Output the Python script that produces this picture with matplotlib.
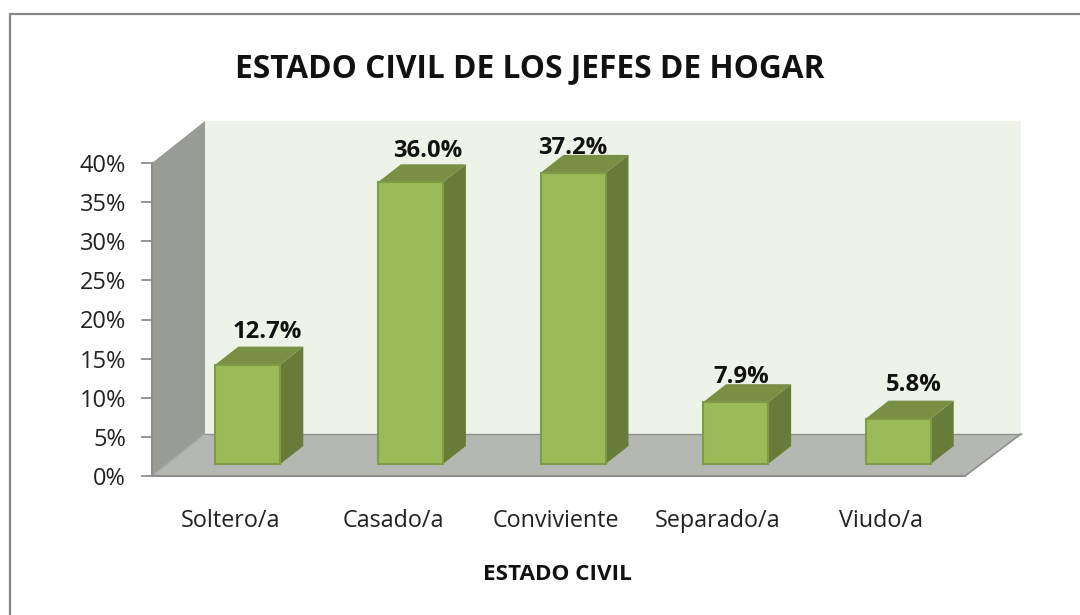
import matplotlib
matplotlib.use("Agg")
import matplotlib.pyplot as plt
from matplotlib.patches import Polygon, Rectangle

categories = ["Soltero/a", "Casado/a", "Conviviente", "Separado/a", "Viudo/a"]
values = [12.7, 36.0, 37.2, 7.9, 5.8]
labels = ["12.7%", "36.0%", "37.2%", "7.9%", "5.8%"]
yticks = [0, 5, 10, 15, 20, 25, 30, 35, 40]
title = "ESTADO CIVIL DE LOS JEFES DE HOGAR"
xlabel = "ESTADO CIVIL"
# data-label nudges from the bar's front centre / top, in pixels
label_dx = [20, 17, 0, 6, 16]
label_dy = [18, 16, 10, 10, 19]

W, H = 1080, 615
plt.rcParams['font.family'] = ['Open Sans', 'DejaVu Sans']
fig = plt.figure(figsize=(W / 100, H / 100), dpi=100, facecolor='white')

L, R, B, T = 152, 965, 476, 163
ax = fig.add_axes([L / W, 1 - B / H, (R - L) / W, (B - T) / H])
ax.set_xlim(-0.5, 4.5)
ax.set_ylim(0, 40)
ax.axis('off')
pxx = 5 / (R - L)
pxy = 40 / (B - T)
DX, DY = 53 * pxx, 42 * pxy
DXR = 56 * pxx
bdx, bdy = 23 * pxx, 18 * pxy
base = 12 * pxy
shift = 14.5 * pxx
bw = 65 * pxx


def poly(pts, fc, ec='none', lw=0, z=1):
    ax.add_patch(Polygon(pts, closed=True, fc=fc, ec=ec, lw=lw, zorder=z,
                         clip_on=False, joinstyle='miter'))


x0, x1 = -0.5, 4.5
poly([(x0 + DX, DY), (x1 + DXR, DY), (x1 + DXR, 40 + DY), (x0 + DX, 40 + DY)], '#EEF3EA', z=1)
poly([(x0, 0), (x0 + DX, DY), (x0 + DX, 40 + DY), (x0, 40)], '#999B96', z=2)
poly([(x0, 0), (x1, 0), (x1 + DXR, DY), (x0 + DX, DY)], '#B5B7B2', z=2)
ax.plot([x0 + DX, x1 + DXR], [DY, DY], color='#8E908D', lw=1.0, zorder=3, clip_on=False)
ax.plot([x0, x0 + DX], [0, DY], color='#A8AAA6', lw=1.0, zorder=3, clip_on=False)
ax.plot([x1, x1 + DXR], [0, DY], color='#8E908D', lw=1.2, zorder=3, clip_on=False)
ax.plot([x0, x1], [0, 0], color='#8E8E8E', lw=1.5, zorder=4, clip_on=False)
ax.plot([x0, x0], [0, 40], color='#8E8E8E', lw=1.5, zorder=4, clip_on=False)
for t in yticks:
    ax.plot([x0 - 10 * pxx, x0], [t, t], color='#8E8E8E', lw=1.3, zorder=4, clip_on=False)
    ax.text(x0 - 26 * pxx, t, f"{t}%", ha='right', va='center_baseline', fontsize=17,
            color='#222222', clip_on=False)

for i, v in enumerate(values):
    l = i - bw / 2 + shift
    r = i + bw / 2 + shift
    b = base
    t = base + v
    poly([(r, b), (r + bdx, b + bdy), (r + bdx, t + bdy), (r, t)], '#667C38', z=5)
    poly([(l, t), (r, t), (r + bdx, t + bdy), (l + bdx, t + bdy)], '#788F44', z=5)
    poly([(l, b), (r, b), (r, t), (l, t)], '#9BBB59', ec='#7F9B46', lw=1.5, z=6)
    ax.text(i + shift + label_dx[i] * pxx, t + bdy + label_dy[i] * pxy, labels[i],
            ha='center', va='center_baseline', fontsize=17.2, fontweight='bold',
            color='#111111', zorder=7, clip_on=False)
    ax.text(i - 3 * pxx, -51 * pxy, categories[i], ha='center', va='baseline', fontsize=16.8,
            color='#222222', clip_on=False)

fig.add_artist(Rectangle((9.5 / W, 1 - 640 / H), 1100 / W, 626 / H, transform=fig.transFigure,
                         fill=False, ec='#868686', lw=1.6))
fig.text(530 / W, 1 - 65 / H, title, ha='center', va='center_baseline', fontsize=22.8,
         fontweight='bold', color='#111111')
fig.text(557 / W, 1 - 572 / H, xlabel, ha='center', va='center_baseline', fontsize=16.2,
         fontweight='bold', color='#111111')
fig.savefig('out.png', dpi=100)
